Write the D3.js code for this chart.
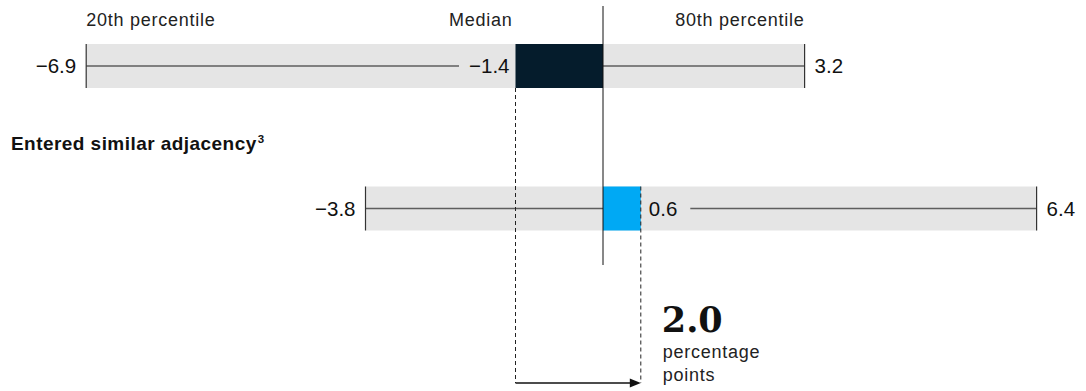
<!DOCTYPE html>
<html>
<head>
<meta charset="utf-8">
<script src="https://cdn.jsdelivr.net/npm/d3@7"></script>
<style>
  html, body { margin: 0; padding: 0; background: #fff; }
  svg { display: block; font-family: "Liberation Sans", Arial, Helvetica, sans-serif; }
</style>
</head>
<body>
<svg id="chart" width="1086" height="391"></svg>
<script>
// ---- data ----
const rowNames = ["", "Entered similar adjacency"];
const rowFootnotes = ["", "3"];
const p20Values = [-6.9, -3.8];
const medianValues = [-1.4, 0.6];
const p80Values = [3.2, 6.4];
const headerLabels = ["20th percentile", "Median", "80th percentile"];
const medianColors = ["#051c2c", "#00a9f4"];
const diffUnitLines = ["percentage", "points"];

// ---- layout ----
const svg = d3.select("#chart");

// stylised (not-to-scale) piecewise axis, as in the original graphic
const x = d3.scaleLinear()
  .domain([-7, -4, 0, 4, 7])
  .range([77, 353, 603, 855, 1082]);

const y = d3.scalePoint()
  .domain(d3.range(rowNames.length))
  .range([66, 208.5]);

const bandH = 44;
const fmt = v => (v < 0 ? "\u2212" : "") + Math.abs(v).toFixed(1);
const valueFont = 20.5;
const labelFont = 18;
const labelSpacing = 0.75;
const arrowY = 383;

// header labels
const hdr = svg.append("g").attr("fill", "#222").attr("font-size", labelFont)
  .attr("letter-spacing", labelSpacing);
hdr.append("text").attr("x", x(p20Values[0])).attr("y", 26).text(headerLabels[0]);
hdr.append("text").attr("x", x(medianValues[0]) - 3).attr("y", 26)
  .attr("text-anchor", "end").text(headerLabels[1]);
hdr.append("text").attr("x", x(p80Values[0])).attr("y", 26)
  .attr("text-anchor", "end").text(headerLabels[2]);

const dash = svg.append("g").attr("stroke", "#222").attr("stroke-width", 1)
  .attr("stroke-dasharray", "4,3");

rowNames.forEach((name, i) => {
  const cy = y(i);
  const g = svg.insert("g", () => dash.node());

  // grey range band
  g.append("rect")
    .attr("x", x(p20Values[i])).attr("y", cy - bandH / 2)
    .attr("width", x(p80Values[i]) - x(p20Values[i])).attr("height", bandH)
    .attr("fill", "#e5e5e5");

  // median block (from zero to median)
  const m = medianValues[i];
  g.append("rect")
    .attr("x", Math.min(x(m), x(0))).attr("y", cy - bandH / 2)
    .attr("width", Math.abs(x(m) - x(0))).attr("height", bandH)
    .attr("fill", medianColors[i]);

  // median label
  const ml = g.append("text")
    .attr("y", cy).attr("dy", "0.36em")
    .attr("font-size", valueFont).attr("fill", "#111")
    .text(fmt(m));
  let lineSegs;
  if (m < 0) {
    ml.attr("x", x(m) - 6).attr("text-anchor", "end");
    const w = ml.node().getComputedTextLength();
    lineSegs = [[x(p20Values[i]), x(m) - 6 - w - 10], [x(0), x(p80Values[i])]];
  } else {
    ml.attr("x", x(m) + 8).attr("text-anchor", "start");
    const w = ml.node().getComputedTextLength();
    lineSegs = [[x(p20Values[i]), x(0)], [x(m) + 8 + w + 13, x(p80Values[i])]];
  }

  // whisker line
  lineSegs.forEach(([a, b]) => {
    g.append("line").attr("x1", a).attr("x2", b).attr("y1", cy).attr("y2", cy)
      .attr("stroke", "#5e5e5e").attr("stroke-width", 1.5);
  });

  // end ticks
  [p20Values[i], p80Values[i]].forEach(v => {
    g.append("line").attr("x1", x(v)).attr("x2", x(v))
      .attr("y1", cy - bandH / 2).attr("y2", cy + bandH / 2)
      .attr("stroke", "#333").attr("stroke-width", 1.2);
  });

  // end values
  g.append("text").attr("x", x(p20Values[i]) - 10).attr("y", cy).attr("dy", "0.36em")
    .attr("text-anchor", "end").attr("font-size", valueFont).attr("fill", "#111")
    .text(fmt(p20Values[i]));
  g.append("text").attr("x", x(p80Values[i]) + 10).attr("y", cy).attr("dy", "0.36em")
    .attr("font-size", valueFont).attr("fill", "#111")
    .text(fmt(p80Values[i]));

  // row title
  if (name) {
    const t = g.append("text").attr("x", 11).attr("y", cy - 58.5)
      .attr("font-size", 19).attr("font-weight", "bold").attr("fill", "#111")
      .attr("letter-spacing", 0.45)
      .text(name);
    if (rowFootnotes[i]) {
      t.append("tspan").attr("font-size", 11.5).attr("dy", -7).attr("dx", 1).text(rowFootnotes[i]);
    }
  }

  // dashed connector from median down to arrow
  const startY = i === 0 ? cy + bandH / 2 : cy - bandH / 2;
  dash.append("line").attr("x1", x(m)).attr("x2", x(m))
    .attr("y1", startY).attr("y2", arrowY);
});

// zero / median reference line
svg.append("line").attr("x1", x(0)).attr("x2", x(0)).attr("y1", 6).attr("y2", 265)
  .attr("stroke", "#111").attr("stroke-width", 1);

// arrow showing the shift in median
const x0 = x(medianValues[0]), x1 = x(medianValues[1]);
svg.append("line").attr("x1", x0).attr("x2", x1 - 9).attr("y1", arrowY).attr("y2", arrowY)
  .attr("stroke", "#111").attr("stroke-width", 1.3);
svg.append("path")
  .attr("d", `M${x1},${arrowY} L${x1 - 11},${arrowY - 4.5} L${x1 - 11},${arrowY + 4.5} Z`)
  .attr("fill", "#111");

// difference annotation
const diff = medianValues[1] - medianValues[0];
svg.append("text").attr("x", x1 + 21).attr("y", 332)
  .style("font-family", "'DejaVu Serif', 'Liberation Serif', serif")
  .attr("font-weight", "bold")
  .attr("font-size", 35).attr("fill", "#111")
  .text(diff.toFixed(1));
const unit = svg.append("text").attr("font-size", labelFont).attr("fill", "#222")
  .attr("letter-spacing", labelSpacing);
diffUnitLines.forEach((s, k) => {
  unit.append("tspan").attr("x", x1 + 22).attr("y", 358 + k * 23).text(s);
});
</script>
</body>
</html>
